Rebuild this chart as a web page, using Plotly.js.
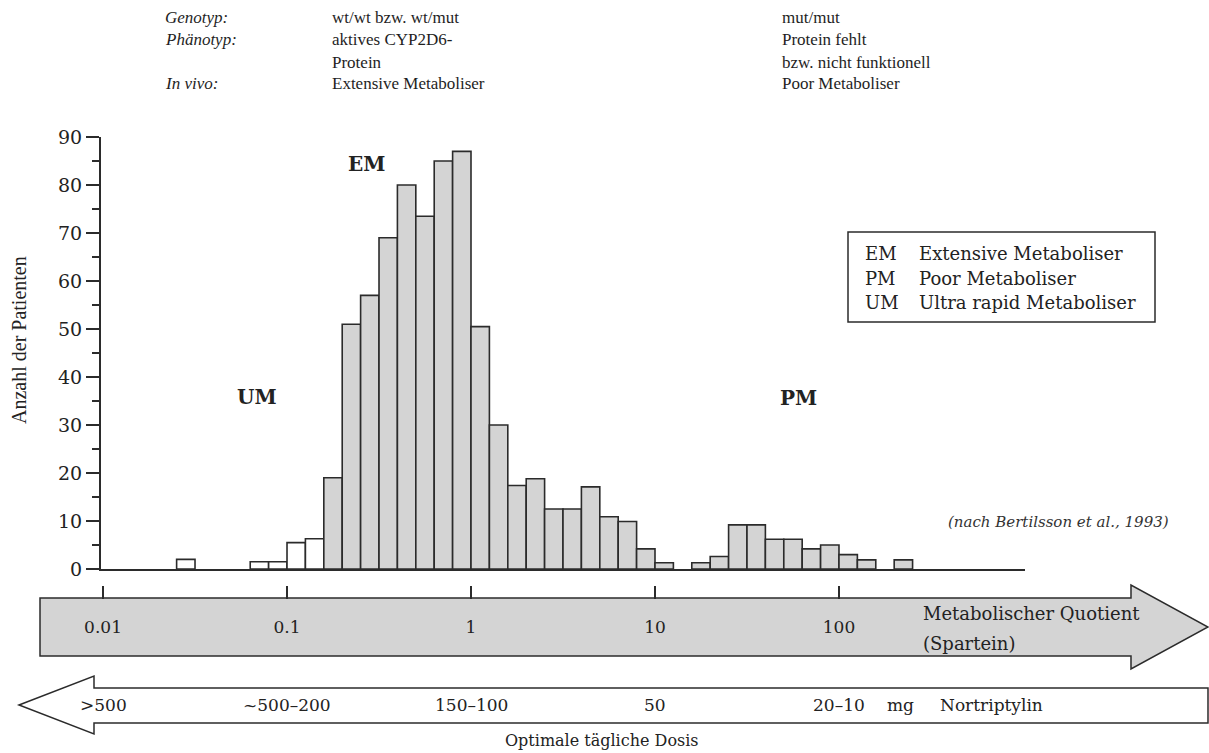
<!DOCTYPE html>
<html>
<head>
<meta charset="utf-8">
<script src="https://cdn.plot.ly/plotly-3.0.1.min.js"></script>
<style>
  html, body { margin: 0; padding: 0; background: #fff; }
  #chart { width: 1209px; height: 753px; }
</style>
</head>
<body>
<div id="chart"></div>
<script>
// Histogram of the spartein metabolic ratio (log scale, 10 bins per decade)
const binLowerLog10 = [-1.6, -1.2, -1.1, -1.0, -0.9,
  -0.8, -0.7, -0.6, -0.5, -0.4, -0.3, -0.2, -0.1,
  0.0, 0.1, 0.2, 0.3, 0.4, 0.5, 0.6, 0.7, 0.8, 0.9, 1.0,
  1.2, 1.3, 1.4, 1.5, 1.6, 1.7, 1.8, 1.9, 2.0, 2.1, 2.3];
const patients = [2, 1.5, 1.5, 5.5, 6.3,
  19, 51, 57, 69, 80, 73.5, 85, 87,
  50.5, 30, 17.4, 18.8, 12.5, 12.5, 17.1, 10.9, 9.9, 4.2, 1.3,
  1.3, 2.6, 9.2, 9.2, 6.2, 6.2, 4.2, 5, 3, 1.9, 1.9];
const phenotype = ['UM', 'UM', 'UM', 'UM', 'UM',
  'EM', 'EM', 'EM', 'EM', 'EM', 'EM', 'EM', 'EM',
  'EM', 'EM', 'EM', 'EM', 'EM', 'EM', 'EM', 'EM', 'EM', 'EM', 'EM',
  'PM', 'PM', 'PM', 'PM', 'PM', 'PM', 'PM', 'PM', 'PM', 'PM', 'PM'];

// Scale under the histogram: metabolic ratio and matching Nortriptylin dose
const quotientTicks = [0.01, 0.1, 1, 10, 100];
const quotientTickText = ['0.01', '0.1', '1', '10', '100'];
const doseLabels = ['>500', '~500–200', '150–100', '50', '20–10'];

// Header table
const headerLabels = ['Genotyp:', 'Phänotyp:', '', 'In vivo:'];
const headerExtensive = ['wt/wt bzw. wt/mut', 'aktives CYP2D6-', 'Protein', 'Extensive Metaboliser'];
const headerPoor = ['mut/mut', 'Protein fehlt', 'bzw. nicht funktionell', 'Poor Metaboliser'];

// Legend
const legendAbbr = ['EM', 'PM', 'UM'];
const legendText = ['Extensive Metaboliser', 'Poor Metaboliser', 'Ultra rapid Metaboliser'];

const W = 1209, H = 753;
const px = x => x / W;
const py = y => 1 - y / H;

const SERIF = 'DejaVu Serif, serif';
const NARROW = 'Liberation Serif, serif';
const INK = '#2b2b2b';
const fillFor = { UM: '#ffffff', EM: '#d4d4d4', PM: '#d4d4d4' };

const barTrace = {
  type: 'bar',
  x: binLowerLog10.map(v => v + 0.05),
  y: patients,
  width: binLowerLog10.map(() => 0.1),
  marker: {
    color: phenotype.map(p => fillFor[p]),
    line: { color: INK, width: 1.6 }
  },
  xaxis: 'x', yaxis: 'y',
  hoverinfo: 'skip'
};

// invisible carrier trace so the log quotient axis is drawn
const quotientTrace = {
  type: 'scatter', mode: 'markers',
  x: quotientTicks, y: quotientTicks.map(() => 0),
  marker: { opacity: 0 },
  xaxis: 'x2', yaxis: 'y',
  hoverinfo: 'skip'
};

const annotations = [];
const txt = (text, x, y, opts) => Object.assign({
  text, x: px(x), y: py(y), xref: 'paper', yref: 'paper',
  showarrow: false, xanchor: 'left', yanchor: 'middle',
  font: { family: SERIF, size: 18, color: '#222' }
}, opts || {});

// header rows
const headerFont = { family: NARROW, size: 17, color: '#1e1e1e' };
const headerY = [18, 40, 62, 83];
headerY.forEach((y, i) => {
  if (headerLabels[i]) annotations.push(txt('<i>' + headerLabels[i] + '</i>', 163, y, { font: headerFont }));
  annotations.push(txt(headerExtensive[i], 330, y, { font: headerFont }));
  annotations.push(txt(headerPoor[i], 780, y, { font: headerFont }));
});

// group labels in the plot
const groupFont = { family: SERIF, size: 20, color: '#222' };
annotations.push(txt('<b>EM</b>', 366, 164, { xanchor: 'center', font: groupFont }));
annotations.push(txt('<b>UM</b>', 257, 397, { xanchor: 'center', font: groupFont }));
annotations.push(txt('<b>PM</b>', 798, 398, { xanchor: 'center', font: groupFont }));

// legend entries
const legendY = [254, 278, 302];
legendY.forEach((y, i) => {
  annotations.push(txt(legendAbbr[i], 863, y));
  annotations.push(txt(legendText[i], 917, y));
});

// source note
annotations.push(txt('<i>(nach Bertilsson et al., 1993)</i>', 1058, 522, { xanchor: 'center', font: { family: SERIF, size: 15, color: '#333' } }));

// y-axis title
annotations.push(txt('Anzahl der Patienten', 19, 340, { xanchor: 'center', textangle: -90, font: { family: NARROW, size: 20, color: '#222' } }));

// metabolic ratio caption
annotations.push(txt('Metabolischer Quotient', 921, 613));
annotations.push(txt('(Spartein)', 921, 643));

// dose labels aligned with the ratio decades
doseLabels.forEach((d, i) => {
  annotations.push({
    text: d, x: Math.log10(quotientTicks[i]), y: py(705), xref: 'x', yref: 'paper',
    showarrow: false, xanchor: 'center', yanchor: 'middle',
    font: { family: SERIF, size: 17, color: '#222' }
  });
});
annotations.push(txt('mg', 885, 705, { font: { family: SERIF, size: 17, color: '#222' } }));
annotations.push(txt('Nortriptylin', 938, 705, { font: { family: SERIF, size: 17, color: '#222' } }));

annotations.push(txt('Optimale tägliche Dosis', 602, 740, { xanchor: 'center', font: { family: SERIF, size: 16, color: '#222' } }));

// arrow outlines in pixel space
const pathFrom = pts => 'M ' + pts.map(p => px(p[0]).toFixed(5) + ',' + py(p[1]).toFixed(5)).join(' L ') + ' Z';
const rightArrow = [[40, 598], [1131, 598], [1131, 585], [1208, 627], [1131, 669], [1131, 656], [40, 656]];
const leftArrow = [[19, 705], [94, 676], [94, 688], [1208, 688], [1208, 723], [94, 723], [94, 734]];

const shapes = [
  { type: 'path', xref: 'paper', yref: 'paper', path: pathFrom(rightArrow), fillcolor: '#d4d4d4', line: { color: INK, width: 1.5 }, layer: 'below' },
  { type: 'path', xref: 'paper', yref: 'paper', path: pathFrom(leftArrow), fillcolor: '#ffffff', line: { color: INK, width: 1.5 }, layer: 'below' },
  { type: 'rect', xref: 'paper', yref: 'paper', x0: px(848), x1: px(1155), y0: py(232), y1: py(322), fillcolor: '#ffffff', line: { color: INK, width: 1.5 }, layer: 'below' }
];

const xDomain = [px(101), px(1025)];
const layout = {
  width: W, height: H,
  margin: { l: 0, r: 0, t: 0, b: 0 },
  paper_bgcolor: '#ffffff', plot_bgcolor: 'rgba(0,0,0,0)',
  showlegend: false,
  xaxis: {
    domain: xDomain, range: [-2.011, 3.011],
    showline: true, linecolor: INK, linewidth: 2,
    ticks: '', showticklabels: false, showgrid: false, zeroline: false, fixedrange: true
  },
  xaxis2: {
    overlaying: 'x', anchor: 'free', position: py(585), side: 'bottom',
    type: 'log', range: [-2.011, 3.011],
    tickvals: quotientTicks, ticktext: quotientTickText,
    ticks: 'outside', ticklen: 13, tickwidth: 1.5, tickcolor: INK,
    showline: false, showgrid: false, zeroline: false,
    ticklabelstandoff: 14,
    tickfont: { family: SERIF, size: 17, color: '#222' }, fixedrange: true
  },
  yaxis: {
    domain: [py(569), py(137)], range: [0, 90],
    showline: true, linecolor: INK, linewidth: 2,
    tickvals: [0, 10, 20, 30, 40, 50, 60, 70, 80, 90],
    ticks: 'outside', ticklen: 13, tickwidth: 1.5, tickcolor: INK,
    minor: { tickvals: [5, 15, 25, 35, 45, 55, 65, 75, 85], ticks: 'outside', ticklen: 7, tickwidth: 1.5, tickcolor: INK, showgrid: false },
    showgrid: false, zeroline: false,
    tickfont: { family: SERIF, size: 19, color: '#222' }, fixedrange: true
  },
  shapes, annotations
};

Plotly.newPlot('chart', [barTrace, quotientTrace], layout, { staticPlot: true, displayModeBar: false });
</script>
</body>
</html>
